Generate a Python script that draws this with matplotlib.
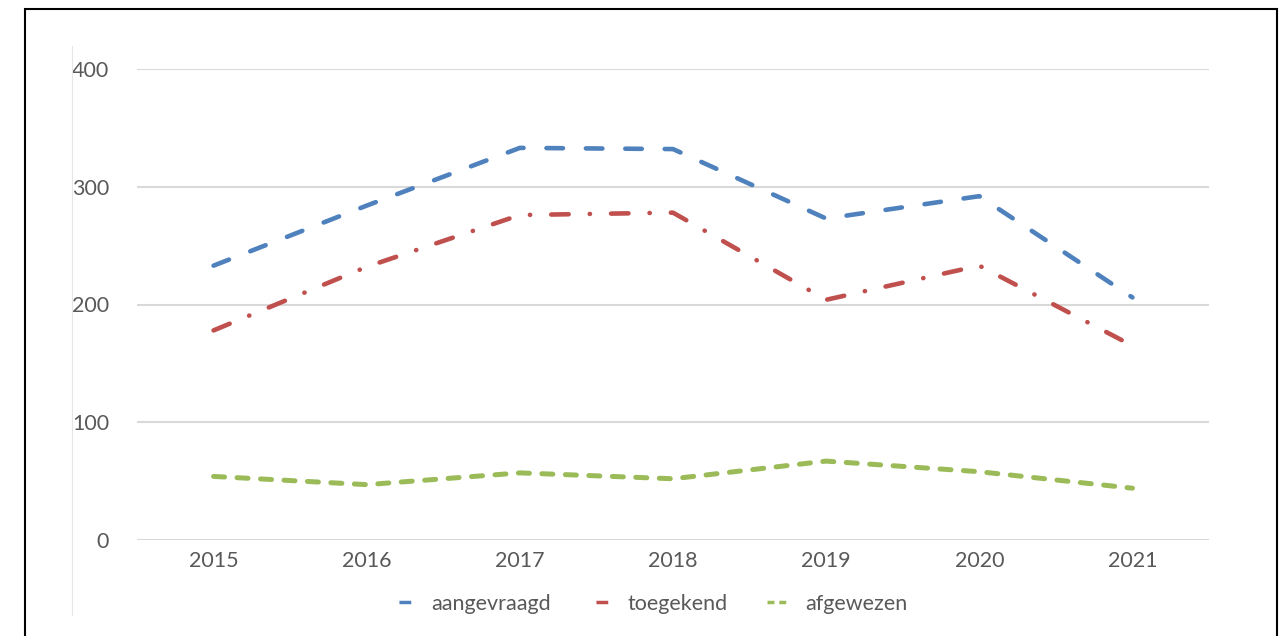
import matplotlib
matplotlib.use("Agg")
import matplotlib.pyplot as plt
from matplotlib.lines import Line2D
from matplotlib.patches import Rectangle

jaren = ["2015", "2016", "2017", "2018", "2019", "2020", "2021"]
aangevraagd = [233, 284, 333, 332, 273, 292, 206]
toegekend = [178, 232, 276, 278, 204, 233, 165]
afgewezen = [54, 47, 57, 52, 67, 58, 44]

blauw = "#4F81BD"
rood = "#C0504D"
groen = "#9BBB59"
tekst = "#595959"

plt.rcParams['font.family'] = ['Lato', 'DejaVu Sans']
fs = 15.5

fig = plt.figure(figsize=(12.81, 6.36), dpi=100)
ax = fig.add_axes([137/1281, 1-540/636, (1209-137)/1281, (540-69)/636])

x = range(len(jaren))
lw = 3.3
ax.plot(x, aangevraagd, color=blauw, lw=lw, dashes=(3.6, 5.0),
        dash_capstyle='round', zorder=3)
ax.plot(x, toegekend, color=rood, lw=lw, dashes=(3.8, 4.6, 0.05, 4.6),
        dash_capstyle='round', zorder=3)
ax.plot(x, afgewezen, color=groen, lw=3.6, dashes=(2.2, 2.5),
        dash_capstyle='round', zorder=3)

ax.set_xlim(-0.5, 6.5)
ax.set_ylim(0, 400)
ax.set_yticks([0, 100, 200, 300, 400])
ax.set_xticks(list(x))
ax.set_xticklabels(jaren)
ax.grid(axis='y', color='#D9D9D9', lw=1.5)
ax.set_axisbelow(True)
for s in ax.spines.values():
    s.set_visible(False)
ax.tick_params(length=0, labelsize=fs, labelcolor=tekst)
ax.tick_params(axis='y', pad=20)
ax.tick_params(axis='x', pad=8)

# legenda: korte lijnstukjes zoals in Excel
handles = [
    Line2D([], [], color=blauw, lw=2.5, linestyle=(3.4, (3.4, 2.0))),
    Line2D([], [], color=rood, lw=2.5, linestyle=(3.4, (3.4, 2.0))),
    Line2D([], [], color=groen, lw=2.5, dashes=(2.0, 1.4, 2.0, 10)),
]
fig.legend(handles, ["aangevraagd", "toegekend", "afgewezen"],
           loc='center', bbox_to_anchor=(650/1281, 1-604/636), ncol=3,
           frameon=False, fontsize=fs, labelcolor=tekst,
           handlelength=0.9, handletextpad=0.9, columnspacing=1.8)

# rand en dunne lijn links
fig.patches.append(Rectangle((25/1281, -0.1), (1277-25)/1281, 1.1-9/636,
                             transform=fig.transFigure, fill=False,
                             edgecolor='black', lw=1.5))
fig.lines.append(Line2D([72/1281, 72/1281], [1-46/636, 1-615/636],
                        transform=fig.transFigure, color='#E6E6E6', lw=0.8))

fig.savefig("out.png", dpi=100)
